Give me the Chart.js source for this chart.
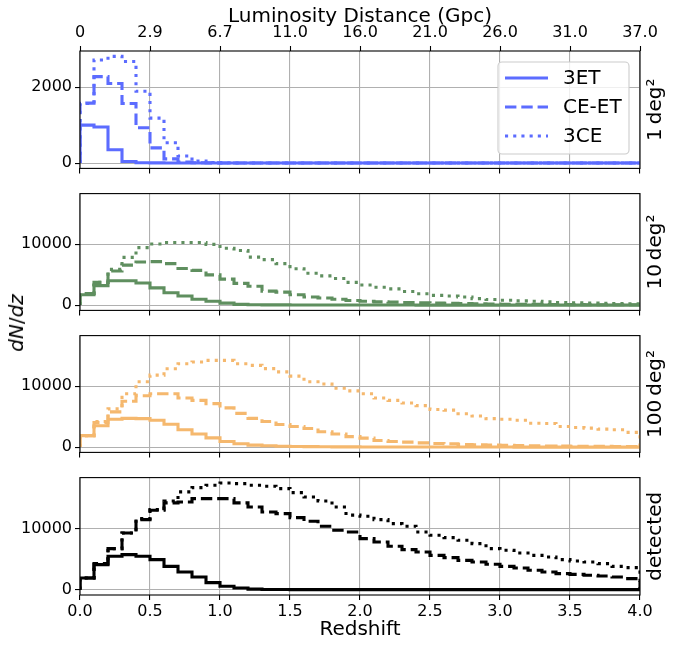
<!DOCTYPE html>
<html>
<head>
<meta charset="utf-8">
<script src="https://cdn.jsdelivr.net/npm/chart.js@4.4.0/dist/chart.umd.min.js"></script>
<style>
  body { margin: 0; background: #fff; }
  #fig { position: relative; width: 675px; height: 647px; overflow: hidden; }
  #fig canvas { position: absolute; left: 0; }
  #ylab {
    position: absolute; left: 16px; top: 323px;
    transform: translate(-50%, -50%) rotate(-90deg);
    font: 20px 'DejaVu Sans', sans-serif; white-space: nowrap; color: #000;
  }
</style>
</head>
<body>
<div id="fig">
  <canvas id="p1" width="675" height="181" style="top:0px"></canvas>
  <canvas id="p2" width="675" height="142" style="top:181px"></canvas>
  <canvas id="p3" width="675" height="142" style="top:323px"></canvas>
  <canvas id="p4" width="675" height="182" style="top:465px"></canvas>
  <div id="ylab"><i>dN</i>/<i>dz</i></div>
</div>
<script>
// bin edges in redshift (0.1 wide)
const binEdges = [0.0, 0.1, 0.2, 0.3, 0.4, 0.5, 0.6, 0.7, 0.8, 0.9,
  1.0, 1.1, 1.2, 1.3, 1.4, 1.5, 1.6, 1.7, 1.8, 1.9,
  2.0, 2.1, 2.2, 2.3, 2.4, 2.5, 2.6, 2.7, 2.8, 2.9,
  3.0, 3.1, 3.2, 3.3, 3.4, 3.5, 3.6, 3.7, 3.8, 3.9, 4.0];

const redshiftTicks = [0, 0.5, 1.0, 1.5, 2.0, 2.5, 3.0, 3.5, 4.0];
const distanceLabels = ['0', '2.9', '6.7', '11.0', '16.0', '21.0', '26.0', '31.0', '37.0'];
const detectorNames = ['3ET', 'CE-ET', '3CE'];
const panelNames = ['1\u2009deg\u00b2', '10\u2009deg\u00b2', '100\u2009deg\u00b2', 'detected'];
const yTicksSmall = [0, 2000];
const yTicksBig = [0, 10000];

// 1 deg^2
const et1 = [1000, 950, 350, 40, 10, 5, 3, 2, 1, 0, 0, 0, 0, 0, 0, 0, 0, 0, 0, 0,
  0, 0, 0, 0, 0, 0, 0, 0, 0, 0, 0, 0, 0, 0, 0, 0, 0, 0, 0, 0];
const ceet1 = [1580, 2280, 2100, 1570, 930, 400, 110, 30, 10, 5, 0, 0, 0, 0, 0, 0, 0, 0, 0, 0,
  0, 0, 0, 0, 0, 0, 0, 0, 0, 0, 0, 0, 0, 0, 0, 0, 0, 0, 0, 0];
const ce1 = [1570, 2720, 2815, 2680, 1895, 1185, 535, 185, 50, 15, 5, 0, 0, 0, 0, 0, 0, 0, 0, 0,
  0, 0, 0, 0, 0, 0, 0, 0, 0, 0, 0, 0, 0, 0, 0, 0, 0, 0, 0, 0];

// 10 deg^2
const et10 = [1710, 3200, 4000, 4000, 3630, 2830, 2030, 1500, 960, 640, 320, 120, 60, 40, 30, 20, 15, 10, 8, 6,
  5, 4, 3, 3, 2, 2, 2, 1, 1, 1, 1, 1, 1, 1, 1, 0, 0, 0, 0, 0];
const ceet10 = [1900, 3740, 5600, 6570, 7100, 7150, 6830, 6030, 5710, 4970, 4270, 3580, 3100, 2300, 2140, 1710, 1340, 1170, 960, 750,
  640, 530, 480, 430, 380, 330, 280, 240, 200, 170, 150, 130, 110, 95, 85, 75, 65, 55, 50, 45];
const ce10 = [1900, 3740, 5870, 7850, 9450, 10040, 10300, 10300, 10300, 9990, 9350, 8970, 7900, 7480, 6830, 5980, 5230, 4800, 4380, 3740,
  3310, 2940, 2670, 2240, 1870, 1600, 1500, 1340, 1070, 910, 800, 690, 640, 530, 430, 370, 320, 280, 240, 200];

// 100 deg^2
const et100 = [1880, 3500, 4570, 4730, 4680, 4410, 3770, 2850, 2150, 1510, 910, 540, 320, 215, 150, 100, 70, 50, 40, 30,
  25, 20, 15, 12, 10, 8, 6, 5, 4, 3, 3, 2, 2, 2, 1, 1, 1, 1, 1, 1];
const ceet100 = [1880, 4030, 5800, 7530, 8450, 8770, 8770, 8070, 7690, 7150, 6460, 5540, 4730, 4200, 3710, 3390, 3070, 2530, 2150, 1720,
  1480, 1080, 910, 810, 700, 590, 540, 430, 380, 330, 290, 250, 220, 190, 170, 150, 130, 110, 100, 90];
const ce100 = [1880, 4200, 6290, 8770, 10760, 11840, 12900, 13720, 13990, 14260, 14260, 13720, 13450, 12910, 12370, 11670, 10760, 10380, 9680, 9250,
  8770, 8070, 7690, 7260, 6830, 6190, 6080, 5490, 5110, 4680, 4570, 4410, 3930, 3870, 3390, 3230, 3120, 2960, 2850, 2420];

// detected
const etDet = [1910, 4100, 5460, 5730, 5460, 4910, 3820, 2890, 2070, 1150, 550, 270, 80, 30, 15, 10, 5, 5, 3, 2,
  2, 1, 1, 1, 0, 0, 0, 0, 0, 0, 0, 0, 0, 0, 0, 0, 0, 0, 0, 0];
const ceetDet = [1910, 4260, 6720, 9280, 11470, 13000, 14200, 14360, 14900, 14900, 14900, 14200, 13540, 12720, 12450, 11800, 11190, 10370, 9720, 9450,
  8350, 7810, 7100, 6550, 6170, 5620, 5240, 4800, 4530, 4150, 3820, 3550, 3170, 2890, 2620, 2510, 2350, 2240, 2070, 1800];
const ceDet = [1910, 4260, 6720, 9280, 11630, 13100, 14520, 16000, 16700, 17090, 17470, 17360, 17090, 16930, 16540, 15890, 15180, 14520, 13540, 12200,
  12010, 11470, 10810, 10370, 9450, 8900, 8520, 8080, 7530, 6720, 6440, 6010, 5620, 5350, 4910, 4700, 4530, 4260, 3820, 3600];

/* styles */
const LW = 3.1;
const dashStyles = [[], [11.4, 4.9], [3.1, 5.1]];
const panelColors = ['#5c6cff', '#5f8f5f', '#f5b86e', '#000000'];
const gridColor = '#b0b0b0';

Chart.defaults.font.family = "'DejaVu Sans', sans-serif";
Chart.defaults.color = '#000';

// step-histogram points: baseline at first edge, then one point per bin left edge
function histPoints(values) {
  const pts = [{ x: binEdges[0], y: 0 }];
  values.forEach((v, i) => pts.push({ x: binEdges[i], y: v }));
  pts.push({ x: binEdges[values.length], y: values[values.length - 1] });
  pts.push({ x: binEdges[values.length], y: 0 });
  return pts;
}

// frame, right-hand label and legend
const panelDecor = {
  id: 'panelDecor',
  afterDraw(chart, args, opts) {
    const ctx = chart.ctx;
    const a = chart.chartArea;
    ctx.save();
    ctx.strokeStyle = '#000';
    ctx.lineWidth = 1.1;
    ctx.setLineDash([]);
    ctx.strokeRect(a.left, a.top, a.right - a.left, a.bottom - a.top);

    // side label
    ctx.translate(656, (a.top + a.bottom) / 2);
    ctx.rotate(-Math.PI / 2);
    ctx.font = "20px 'DejaVu Sans', sans-serif";
    ctx.fillStyle = '#000';
    ctx.textAlign = 'center';
    ctx.textBaseline = 'middle';
    ctx.fillText(opts.sideLabel, 0, 0);
    ctx.restore();

    if (opts.legend) {
      const L = opts.legend;
      ctx.save();
      ctx.beginPath();
      ctx.roundRect(L.left, L.top, L.width, L.height, 4);
      ctx.fillStyle = 'rgba(255,255,255,0.8)';
      ctx.fill();
      ctx.strokeStyle = '#cccccc';
      ctx.lineWidth = 1.1;
      ctx.stroke();
      chart.data.datasets.forEach((ds, i) => {
        const y = L.top + L.firstRow + i * L.rowGap;
        ctx.beginPath();
        ctx.strokeStyle = ds.borderColor;
        ctx.lineWidth = ds.borderWidth;
        ctx.setLineDash(ds.borderDash);
        ctx.moveTo(L.left + 7, y);
        ctx.lineTo(L.left + 50, y);
        ctx.stroke();
        ctx.setLineDash([]);
        ctx.fillStyle = '#000';
        ctx.font = "20px 'DejaVu Sans', sans-serif";
        ctx.textAlign = 'left';
        ctx.textBaseline = 'middle';
        ctx.fillText(ds.label, L.left + 65, y + 1);
      });
      ctx.restore();
    }
  }
};

function makePanel(id, series, colorIdx, cfg) {
  const color = panelColors[colorIdx];
  const datasets = series.map((vals, i) => ({
    label: detectorNames[i],
    data: histPoints(vals),
    stepped: true,
    borderColor: color,
    borderWidth: LW,
    borderDash: dashStyles[i],
    borderCapStyle: 'butt',
    pointRadius: 0,
    fill: false,
    order: 2 - i
  }));

  const allVals = [].concat(...series);
  const peak = cfg.sharedMax || Math.max(...allVals);

  const scales = {
    x: {
      type: 'linear',
      position: 'bottom',
      min: 0, max: 4,
      afterBuildTicks: ax => { ax.ticks = redshiftTicks.map(v => ({ value: v })); },
      afterFit: ax => { ax.height = cfg.bottomH; },
      border: { display: false },
      grid: { color: gridColor, lineWidth: 1.1, tickColor: '#000', tickLength: 5, tickWidth: 1.1 },
      ticks: {
        display: !!cfg.xLabels, font: { size: 16 }, padding: 2, maxRotation: 0,
        callback: v => Number(v).toFixed(1)
      },
      title: {
        display: !!cfg.xLabels, text: 'Redshift', font: { size: 20 },
        padding: { top: 0, bottom: 5 }
      }
    },
    y: {
      min: -0.05 * peak, max: 1.05 * peak,
      afterBuildTicks: ax => { ax.ticks = cfg.yTicks.map(v => ({ value: v })); },
      afterFit: ax => { ax.width = 80; },
      border: { display: false },
      grid: { color: gridColor, lineWidth: 1.1, tickColor: '#000', tickLength: 5, tickWidth: 1.1 },
      ticks: { font: { size: 16 }, padding: 3, callback: v => String(v) }
    }
  };

  if (cfg.topAxis) {
    scales.x2 = {
      type: 'linear',
      position: 'top',
      min: 0, max: 4,
      afterBuildTicks: ax => { ax.ticks = redshiftTicks.map(v => ({ value: v })); },
      afterFit: ax => { ax.height = 51; },
      border: { display: false },
      grid: { drawOnChartArea: false, tickColor: '#000', tickLength: 5, tickWidth: 1.1 },
      ticks: { font: { size: 16 }, padding: 4, maxRotation: 0, callback: (v, i) => distanceLabels[i] },
      title: { display: true, text: 'Luminosity Distance (Gpc)', font: { size: 20 }, padding: { top: 5, bottom: 0 } }
    };
  }

  return new Chart(document.getElementById(id), {
    type: 'line',
    data: { datasets: datasets },
    plugins: [panelDecor],
    options: {
      responsive: false,
      animation: false,
      events: [],
      layout: { padding: { left: 0, right: 35, top: cfg.topPad, bottom: 0 } },
      scales: scales,
      plugins: {
        legend: { display: false },
        tooltip: { enabled: false },
        panelDecor: { sideLabel: cfg.sideLabel, legend: cfg.legend }
      }
    }
  });
}

// panels 2-4 share the y range
const sharedPeak = Math.max(...[].concat(et10, ceet10, ce10, et100, ceet100, ce100, etDet, ceetDet, ceDet));

makePanel('p1', [et1, ceet1, ce1], 0, {
  topAxis: true, topPad: 0, bottomH: 12, yTicks: yTicksSmall, sideLabel: panelNames[0],
  legend: { left: 498, top: 62, width: 131, height: 92, firstRow: 16, rowGap: 29 }
});
makePanel('p2', [et10, ceet10, ce10], 1, {
  topPad: 12, bottomH: 12, yTicks: yTicksBig, sideLabel: panelNames[1], sharedMax: sharedPeak
});
makePanel('p3', [et100, ceet100, ce100], 2, {
  topPad: 12, bottomH: 12, yTicks: yTicksBig, sideLabel: panelNames[2], sharedMax: sharedPeak
});
makePanel('p4', [etDet, ceetDet, ceDet], 3, {
  topPad: 12, bottomH: 52, xLabels: true, yTicks: yTicksBig, sideLabel: panelNames[3], sharedMax: sharedPeak
});
</script>
</body>
</html>
